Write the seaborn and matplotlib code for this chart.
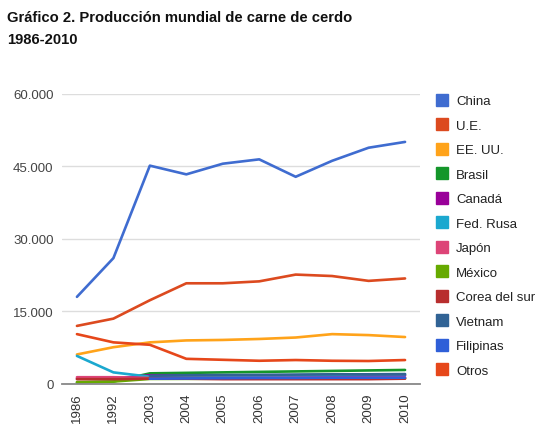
import numpy as np
import pandas as pd
import matplotlib
matplotlib.use("Agg")
import matplotlib.pyplot as plt
from matplotlib.lines import Line2D
from matplotlib.ticker import FuncFormatter
import seaborn as sns

years = ['1986', '1992', '2003', '2004', '2005', '2006', '2007', '2008', '2009', '2010']
countries = ['China', 'U.E.', 'EE. UU.', 'Brasil', 'Canadá', 'Fed. Rusa', 'Japón',
             'México', 'Corea del sur', 'Vietnam', 'Filipinas', 'Otros']

china = [18000, 26000, 45100, 43300, 45500, 46400, 42800, 46100, 48800, 50000]
ue = [12000, 13500, 17300, 20800, 20800, 21200, 22600, 22300, 21300, 21800]
eeuu = [6100, 7600, 8600, 9000, 9100, 9300, 9600, 10300, 10100, 9700]
brasil = [300, 500, 2200, 2300, 2400, 2500, 2600, 2700, 2800, 2900]
canada = [1100, 1100, 1800, 1800, 1800, 1750, 1750, 1750, 1750, 1750]
fed_rusa = [5800, 2400, 1500, 1600, 1700, 1750, 1800, 1900, 2000, 2000]
japon = [1400, 1400, 1250, 1270, 1250, 1250, 1250, 1250, 1300, 1290]
mexico = [400, 500, 1050, 1060, 1100, 1110, 1150, 1160, 1160, 1170]
corea = [1000, 1000, 1100, 1100, 1000, 1000, 1000, 1000, 1000, 1100]
vietnam = [np.nan, np.nan, 1700, 1800, 1850, 1900, 1950, 2000, 2000, 2050]
filipinas = [np.nan, np.nan, 1100, 1150, 1200, 1250, 1250, 1300, 1300, 1300]
otros = [10300, 8600, 8100, 5200, 5000, 4800, 4950, 4800, 4750, 4950]

series = [china, ue, eeuu, brasil, canada, fed_rusa, japon, mexico, corea,
          vietnam, filipinas, otros]
colors = ['#3f6cd0', '#dc4a1f', '#ffa31a', '#14962a', '#990099', '#1ba8cf',
          '#dd4477', '#66aa00', '#b82e2e', '#316395', '#2f5fd8', '#e6471a']

rows = []
for c, vals in zip(countries, series):
    for y, v in zip(years, vals):
        rows.append({'Año': y, 'País': c, 'Valor': v})
df = pd.DataFrame(rows)

sns.set_theme(style='white')
plt.rcParams['font.family'] = ['Liberation Sans', 'DejaVu Sans']

fig = plt.figure(figsize=(5.35, 4.31), dpi=100)
ax = fig.add_axes([62 / 535, (431 - 385) / 431, (420 - 62) / 535, (385 - 94.5) / 431])

sns.lineplot(data=df, x='Año', y='Valor', hue='País', hue_order=countries,
             palette=colors, linewidth=1.9, ax=ax, legend=False, sort=False)

ax.set_xlim(-0.41, 9.41)
ax.set_ylim(0, 60000)
ax.set_yticks([0, 15000, 30000, 45000, 60000])
ax.yaxis.set_major_formatter(FuncFormatter(lambda v, p: f"{int(v):,}".replace(',', '.')))
ax.grid(axis='y', color='#dddddd', linewidth=1)
ax.grid(axis='x', visible=False)
for s in ['top', 'right', 'left']:
    ax.spines[s].set_visible(False)
ax.spines['bottom'].set_color('#888888')
ax.spines['bottom'].set_linewidth(1.3)
ax.set_xlabel('')
ax.set_ylabel('')
ax.tick_params(axis='y', length=0, pad=6, labelsize=9.5, labelcolor='#444444')
ax.tick_params(axis='x', length=0, pad=6, labelsize=9.5, labelcolor='#333333',
               labelrotation=90)

handles = [Line2D([0], [0], marker='s', color='none', markerfacecolor=col,
                  markeredgecolor=col, markersize=9) for col in colors]
fig.legend(handles, countries, loc='upper left', bbox_to_anchor=(435 / 535, 1 - 96 / 431),
           frameon=False, fontsize=9.5, labelspacing=0.93, handlelength=1.0,
           handletextpad=0.6, borderaxespad=0, borderpad=0, labelcolor='#222222')

fig.text(7 / 535, 1 - 11 / 431, 'Gráfico 2. Producción mundial de carne de cerdo\n1986-2010',
         ha='left', va='top', fontsize=10.6, fontweight='bold', color='#111111',
         linespacing=1.7)

fig.savefig('out.png', dpi=100)
